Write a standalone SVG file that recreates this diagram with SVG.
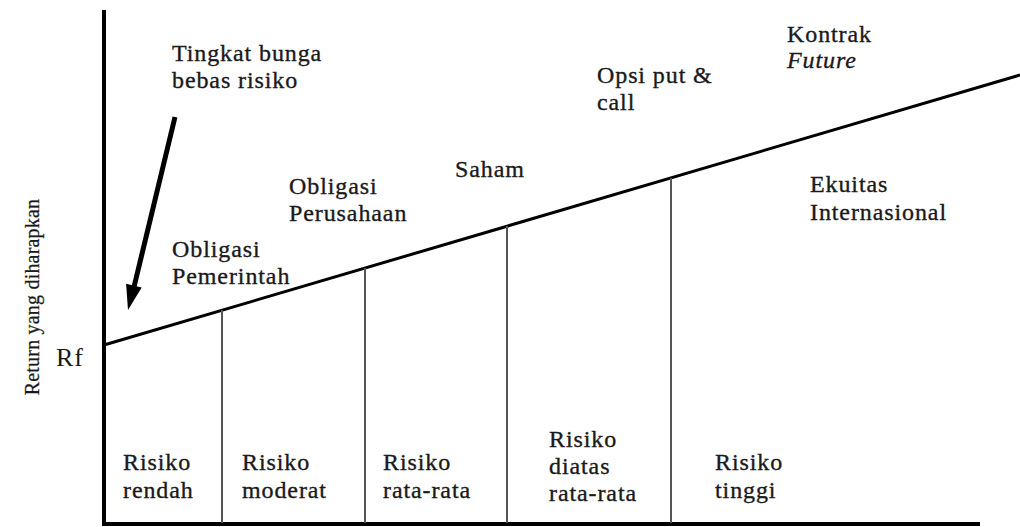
<svg xmlns="http://www.w3.org/2000/svg" width="1020" height="527" viewBox="0 0 1020 527">
<style>
.t{font-family:"Liberation Serif","Times New Roman",serif;font-size:24px;letter-spacing:0.9px;fill:#1a1a1a;stroke:#1a1a1a;stroke-width:0.35}
.i{font-style:italic}
.ax{stroke:#000;stroke-width:4;fill:none}
.ln{stroke:#000;stroke-width:3;fill:none}
.dv{stroke:#555;stroke-width:2;fill:none}
</style>
<rect width="1020" height="527" fill="#fff"/>
<g id="axes">
<line class="ax" x1="104" y1="10" x2="104" y2="526"/>
<line class="ax" x1="102" y1="524" x2="980" y2="524"/>
<text class="t" style="font-size:20px;letter-spacing:0.2px;stroke-width:0.25" transform="translate(39,297) rotate(-90)" text-anchor="middle">Return yang diharapkan</text>
<text class="t" style="font-size:26px;stroke-width:0" x="56" y="366">Rf</text>
</g>
<g id="connectors">
<line class="ln" x1="104" y1="345" x2="1020" y2="75"/>
<line class="dv" x1="222" y1="310" x2="222" y2="523"/>
<line class="dv" x1="365" y1="268" x2="365" y2="523"/>
<line class="dv" x1="507" y1="226" x2="507" y2="523"/>
<line class="dv" x1="671" y1="178" x2="671" y2="523"/>
<line x1="175" y1="117" x2="134" y2="287" stroke="#000" stroke-width="5"/>
<polygon points="128,310 141.7,287.6 126.1,283.8" fill="#000"/>
</g>
<g id="rf-label"><text class="t" x="172" y="61">Tingkat bunga</text><text class="t" x="172" y="88">bebas risiko</text></g>
<g id="obligasi-pemerintah"><text class="t" x="172" y="257">Obligasi</text><text class="t" x="172" y="284">Pemerintah</text></g>
<g id="obligasi-perusahaan"><text class="t" x="289" y="194">Obligasi</text><text class="t" x="289" y="221">Perusahaan</text></g>
<g id="saham"><text class="t" x="455" y="177">Saham</text></g>
<g id="opsi"><text class="t" x="597" y="83">Opsi put &amp;</text><text class="t" x="597" y="110">call</text></g>
<g id="kontrak"><text class="t" x="787" y="42">Kontrak</text><text class="t i" x="787" y="68">Future</text></g>
<g id="ekuitas"><text class="t" x="810" y="192">Ekuitas</text><text class="t" x="810" y="220">Internasional</text></g>
<g id="risiko-rendah"><text class="t" x="123" y="470">Risiko</text><text class="t" x="123" y="498">rendah</text></g>
<g id="risiko-moderat"><text class="t" x="242" y="470">Risiko</text><text class="t" x="242" y="498">moderat</text></g>
<g id="risiko-rata"><text class="t" x="383" y="470">Risiko</text><text class="t" x="383" y="498">rata-rata</text></g>
<g id="risiko-diatas"><text class="t" x="549" y="447">Risiko</text><text class="t" x="549" y="474">diatas</text><text class="t" x="549" y="501">rata-rata</text></g>
<g id="risiko-tinggi"><text class="t" x="715" y="470">Risiko</text><text class="t" x="715" y="498">tinggi</text></g>
</svg>
